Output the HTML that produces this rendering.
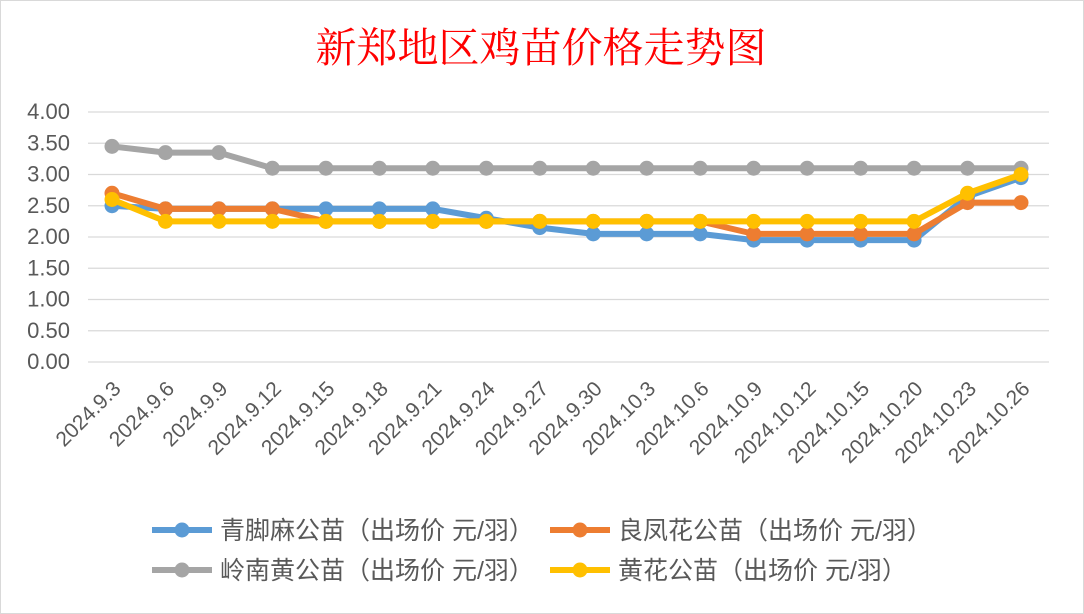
<!DOCTYPE html>
<html><head><meta charset="utf-8"><style>
body{margin:0;background:#fff;}
svg{display:block;font-family:"Liberation Sans","Noto Sans CJK SC",sans-serif;}
</style></head><body>
<svg id="chart" width="1084" height="614">
<rect x="0.5" y="0.5" width="1083" height="613" fill="#fff" stroke="#d9d9d9"/>
<text x="541" y="62" text-anchor="middle" font-size="41" fill="#ff0000" font-family="'Liberation Serif','Noto Serif CJK SC',serif">新郑地区鸡苗价格走势图</text>
<g id="grid"></g><g id="xlabels"></g><g id="series"></g><g id="legend"></g>
</svg>
<script>
const categories=["2024.9.3","2024.9.6","2024.9.9","2024.9.12","2024.9.15","2024.9.18","2024.9.21","2024.9.24","2024.9.27","2024.9.30","2024.10.3","2024.10.6","2024.10.9","2024.10.12","2024.10.15","2024.10.20","2024.10.23","2024.10.26"];
const blueValues=[2.5,2.45,2.45,2.45,2.45,2.45,2.45,2.3,2.15,2.05,2.05,2.05,1.95,1.95,1.95,1.95,2.65,2.95];
const orangeValues=[2.7,2.45,2.45,2.45,2.25,2.25,2.25,2.25,2.25,2.25,2.25,2.25,2.05,2.05,2.05,2.05,2.55,2.55];
const grayValues=[3.45,3.35,3.35,3.1,3.1,3.1,3.1,3.1,3.1,3.1,3.1,3.1,3.1,3.1,3.1,3.1,3.1,3.1];
const yellowValues=[2.6,2.25,2.25,2.25,2.25,2.25,2.25,2.25,2.25,2.25,2.25,2.25,2.25,2.25,2.25,2.25,2.7,3.0];
const yTicks=["0.00","0.50","1.00","1.50","2.00","2.50","3.00","3.50","4.00"];
const seriesNames=["青脚麻公苗（出场价 元/羽）","良凤花公苗（出场价 元/羽）","岭南黄公苗（出场价 元/羽）","黄花公苗（出场价 元/羽）"];
const NS="http://www.w3.org/2000/svg";
const x=i=>112+i*(1021-112)/(categories.length-1);
const y=v=>362-v*62.5;
function mk(tag,attrs,parent){const e=document.createElementNS(NS,tag);for(const k in attrs)e.setAttribute(k,attrs[k]);parent.appendChild(e);return e;}
const grid=document.getElementById('grid');
yTicks.forEach(t=>{const v=parseFloat(t);
 const l=mk('line',{x1:88,x2:1049,y1:y(v),y2:y(v),stroke:'#d9d9d9','stroke-width':1.3},grid);
 
 
 const tx=mk('text',{x:70,y:y(v)+7,'text-anchor':'end','font-size':22,fill:'#595959'},grid);
 tx.textContent=t;
 
 
});
const xl=document.getElementById('xlabels');
categories.forEach((c,i)=>{const tx=mk('text',{x:x(i)+10,y:390,'text-anchor':'end','font-size':21,fill:'#595959',transform:`rotate(-45 ${x(i)+10} 390)`},xl);
 tx.textContent=c;
 
 
});
const sg=document.getElementById('series');
const all=[[blueValues,'#5b9bd5','series-qingjiaoma'],[orangeValues,'#ed7d31','series-liangfenghua'],[grayValues,'#a5a5a5','series-lingnanhuang'],[yellowValues,'#ffc000','series-huanghua']];
all.forEach(([vals,col,name])=>{const g=mk('g',{},sg);
 
 
 const p=mk('polyline',{points:vals.map((v,i)=>x(i)+','+y(v)).join(' '),fill:'none',stroke:col,'stroke-width':6,'stroke-linejoin':'round'},g);
 
 
 vals.forEach((v,i)=>{const c=mk('circle',{cx:x(i),cy:y(v),r:7.5,fill:col},g);
  
  });
});
const lg=document.getElementById('legend');
const pos=[[152,530],[550,530],[152,570],[550,570]];
all.forEach(([v,col],k)=>{const [lx,ly]=pos[k];const g=mk('g',{},lg);
 
 
 mk('line',{x1:lx,x2:lx+60,y1:ly,y2:ly,stroke:col,'stroke-width':6},g);
 mk('circle',{cx:lx+30,cy:ly,r:7.5,fill:col},g);
 const t=mk('text',{x:lx+68,y:ly+9,'font-size':25,fill:'#595959'},g);
 t.textContent=seriesNames[k];
});
</script>
</body></html>
